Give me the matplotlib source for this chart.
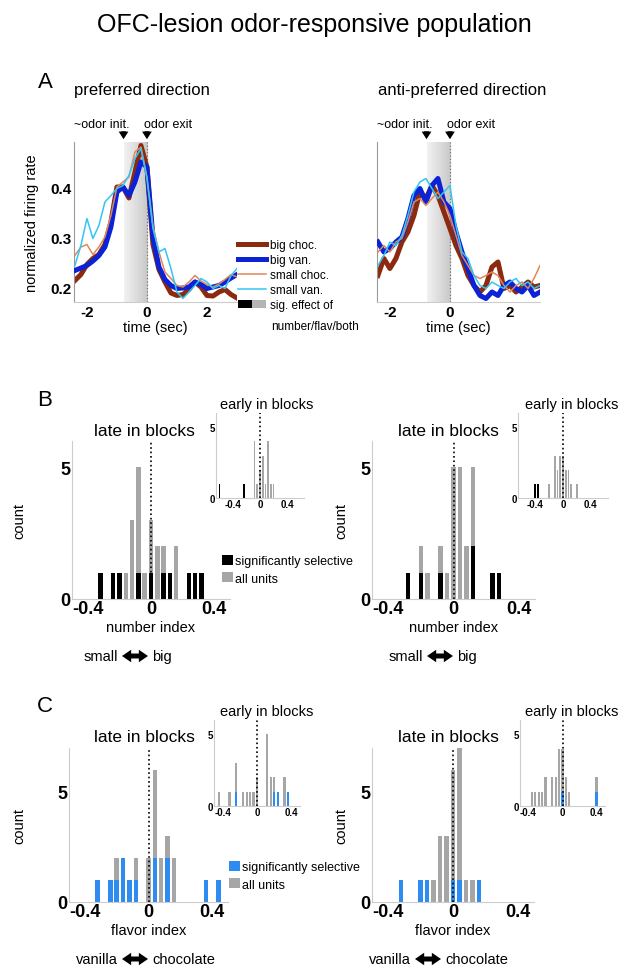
import numpy as np
import matplotlib
matplotlib.use("Agg")
import matplotlib.pyplot as plt
from matplotlib.colors import LinearSegmentedColormap
from matplotlib.patches import Patch, FancyArrowPatch
from matplotlib.legend_handler import HandlerTuple

plt.rcParams['font.family'] = ['Liberation Sans', 'DejaVu Sans']

# ---------------- data ----------------
t = [-2.4, -2.2, -2.0, -1.8, -1.6, -1.4, -1.2, -1.0, -0.8, -0.6, -0.4, -0.2, 0.0, 0.2,
     0.4, 0.6, 0.8, 1.0, 1.2, 1.4, 1.6, 1.8, 2.0, 2.2, 2.4, 2.6, 2.8, 3.0]

pref_big_choc = [0.213, 0.225, 0.245, 0.257, 0.265, 0.285, 0.330, 0.400, 0.400, 0.378, 0.430, 0.483, 0.440, 0.285,
                 0.235, 0.210, 0.188, 0.183, 0.185, 0.195, 0.210, 0.200, 0.183, 0.182, 0.190, 0.195, 0.185, 0.178]
pref_big_van = [0.233, 0.238, 0.243, 0.252, 0.263, 0.280, 0.320, 0.390, 0.400, 0.383, 0.410, 0.450, 0.440, 0.300,
                0.240, 0.215, 0.203, 0.197, 0.198, 0.200, 0.210, 0.205, 0.197, 0.200, 0.203, 0.210, 0.218, 0.225]
pref_small_choc = [0.263, 0.280, 0.285, 0.265, 0.280, 0.300, 0.343, 0.400, 0.410, 0.420, 0.470, 0.480, 0.420, 0.323,
                   0.270, 0.230, 0.217, 0.203, 0.200, 0.210, 0.223, 0.212, 0.205, 0.200, 0.206, 0.215, 0.225, 0.220]
pref_small_van = [0.243, 0.283, 0.337, 0.297, 0.323, 0.370, 0.383, 0.397, 0.403, 0.423, 0.457, 0.477, 0.417, 0.317,
                  0.270, 0.277, 0.237, 0.190, 0.177, 0.190, 0.203, 0.217, 0.210, 0.197, 0.203, 0.197, 0.223, 0.237]

anti_big_choc = [0.223, 0.257, 0.237, 0.257, 0.290, 0.310, 0.343, 0.390, 0.377, 0.403, 0.383, 0.350, 0.317, 0.283,
                 0.257, 0.223, 0.203, 0.190, 0.203, 0.240, 0.250, 0.197, 0.203, 0.190, 0.200, 0.210, 0.200, 0.203]
anti_big_van = [0.290, 0.270, 0.277, 0.290, 0.300, 0.337, 0.383, 0.397, 0.370, 0.403, 0.417, 0.370, 0.357, 0.310,
                0.270, 0.237, 0.203, 0.183, 0.177, 0.190, 0.183, 0.203, 0.210, 0.197, 0.190, 0.203, 0.183, 0.190]
anti_small_choc = [0.270, 0.283, 0.270, 0.290, 0.297, 0.330, 0.370, 0.377, 0.363, 0.377, 0.390, 0.370, 0.343, 0.303,
                   0.263, 0.243, 0.223, 0.217, 0.223, 0.230, 0.223, 0.203, 0.190, 0.203, 0.210, 0.197, 0.217, 0.243]
anti_small_van = [0.243, 0.263, 0.290, 0.283, 0.303, 0.343, 0.390, 0.410, 0.417, 0.397, 0.377, 0.390, 0.403, 0.323,
                  0.270, 0.257, 0.223, 0.203, 0.197, 0.210, 0.203, 0.197, 0.210, 0.217, 0.203, 0.210, 0.197, 0.203]

odor_init, odor_exit = -0.78, 0.0

# number index (B)
B_late_pref_x = [-0.32, -0.24, -0.20, -0.16, -0.12, -0.08, -0.04, 0.00, 0.04, 0.08, 0.12, 0.16, 0.24, 0.28, 0.32]
B_late_pref_all = [1, 1, 1, 1, 3, 5, 1, 3, 2, 2, 1, 2, 1, 1, 1]
B_late_pref_sig = [1, 1, 1, 0, 0, 1, 0, 1, 0, 1, 1, 0, 1, 1, 1]
B_early_pref_x = [-0.60, -0.24, -0.08, -0.04, 0.00, 0.04, 0.08, 0.12, 0.16, 0.20]
B_early_pref_all = [1, 1, 4, 1, 2, 3, 1, 4, 1, 1]
B_early_pref_sig = [1, 1, 0, 0, 0, 0, 0, 0, 0, 0]
B_late_anti_x = [-0.28, -0.20, -0.16, -0.08, -0.04, 0.00, 0.04, 0.08, 0.12, 0.24, 0.28]
B_late_anti_all = [1, 2, 1, 2, 1, 5, 5, 2, 5, 1, 1]
B_late_anti_sig = [1, 1, 0, 1, 0, 0, 0, 0, 2, 1, 1]
B_early_anti_x = [-0.40, -0.36, -0.20, -0.12, -0.08, -0.04, 0.00, 0.04, 0.08, 0.12, 0.20]
B_early_anti_all = [1, 1, 1, 3, 2, 3, 3, 2, 2, 1, 1]
B_early_anti_sig = [1, 1, 0, 0, 0, 0, 0, 0, 0, 0, 0]

# flavor index (C)
C_late_pref_x = [-0.32, -0.24, -0.20, -0.16, -0.12, -0.08, 0.00, 0.04, 0.08, 0.12, 0.16, 0.36, 0.44]
C_late_pref_all = [1, 1, 2, 2, 1, 2, 2, 6, 2, 3, 2, 1, 1]
C_late_pref_sig = [1, 1, 1, 2, 1, 1, 0, 2, 0, 2, 0, 1, 1]
C_early_pref_x = [-0.44, -0.32, -0.24, -0.16, -0.12, -0.08, -0.04, 0.00, 0.12, 0.16, 0.20, 0.24, 0.32, 0.36]
C_early_pref_all = [1, 1, 3, 1, 1, 1, 1, 2, 5, 2, 2, 1, 2, 1]
C_early_pref_sig = [0, 0, 1, 0, 0, 0, 0, 0, 0, 0, 1, 1, 0, 1]
C_late_anti_x = [-0.32, -0.20, -0.16, -0.12, -0.08, -0.04, 0.00, 0.04, 0.08, 0.12, 0.16]
C_late_anti_all = [1, 1, 1, 1, 3, 3, 6, 7, 1, 1, 1]
C_late_anti_sig = [1, 1, 1, 0, 0, 0, 1, 1, 0, 0, 1]
C_early_anti_x = [-0.36, -0.32, -0.28, -0.24, -0.20, -0.12, -0.08, -0.04, 0.00, 0.04, 0.08, 0.40]
C_early_anti_all = [1, 1, 1, 1, 2, 2, 2, 4, 4, 2, 1, 2]
C_early_anti_sig = [0, 0, 0, 0, 0, 0, 0, 0, 1, 0, 0, 1]

# ---------------- style ----------------
BROWN = '#8B2A0E'
NAVY = '#0B22D6'
ORANGE = '#E0875A'
CYAN = '#33C6F2'
GRAY = '#a6a6a6'
SIGBLUE = '#2E8BF0'
SPINE = '#cccccc'

W, H = 629, 978
fig = plt.figure(figsize=(W / 100, H / 100), dpi=100)


def P(x0, y0, x1, y1):
    return fig.add_axes([x0 / W, 1 - y1 / H, (x1 - x0) / W, (y1 - y0) / H])


def ftext(x, y, s, **kw):
    kw.setdefault('ha', 'center')
    kw.setdefault('va', 'center')
    fig.text(x / W, 1 - y / H, s, **kw)


def dbl_arrow(xa, xb, y):
    xm = 0.5 * (xa + xb)
    for xe in (xa, xb):
        fig.add_artist(FancyArrowPatch((xm / W, 1 - y / H), (xe / W, 1 - y / H), transform=fig.transFigure,
                                       arrowstyle='simple,head_length=0.55,head_width=0.75,tail_width=0.3',
                                       mutation_scale=12, lw=0, color='k', shrinkA=0, shrinkB=0))


ftext(314, 25, 'OFC-lesion odor-responsive population', fontsize=18)

# ---------------- Panel A ----------------
shade_cmap = LinearSegmentedColormap.from_list('sh', ['#f2f2f2', '#c8c8c8'])


def trace_panel(ax, bc, bv, sc, sv, show_y):
    ax.imshow(np.linspace(0, 1, 64).reshape(1, -1), extent=[odor_init, odor_exit, 0.17, 0.49],
              cmap=shade_cmap, aspect='auto', zorder=0)
    ax.axvline(0, color='#777777', ls=':', lw=0.9, zorder=1)
    l1, = ax.plot(t, bc, color=BROWN, lw=3.6, label='big choc.', zorder=2)
    l2, = ax.plot(t, bv, color=NAVY, lw=3.6, label='big van.', zorder=3)
    l3, = ax.plot(t, sc, color=ORANGE, lw=1.1, label='small choc.', zorder=4)
    l4, = ax.plot(t, sv, color=CYAN, lw=1.1, label='small van.', zorder=5)
    ax.set_xlim(-2.43, 3.0)
    ax.set_ylim(0.17, 0.49)
    ax.set_xticks([-2, 0, 2])
    ax.set_xticklabels(['-2', '0', '2'], fontweight='bold', fontsize=11)
    if show_y:
        ax.set_yticks([0.2, 0.3, 0.4])
        ax.set_yticklabels(['0.2', '0.3', '0.4'], fontweight='bold', fontsize=11)
    else:
        ax.set_yticks([])
    ax.tick_params(length=0, pad=2)
    for s in ['top', 'right']:
        ax.spines[s].set_visible(False)
    ax.spines['left'].set_color('#999999')
    ax.spines['bottom'].set_color(SPINE)
    ax.set_xlabel('time (sec)', fontsize=10.5, labelpad=1)
    for tt in (odor_init, odor_exit):
        ax.annotate('', xy=(tt, 1.0), xytext=(tt, 1.085), xycoords=('data', 'axes fraction'),
                    arrowprops=dict(arrowstyle='simple,head_length=0.55,head_width=0.7,tail_width=0.35',
                                    color='k', lw=0), annotation_clip=False)
    ax.text(-1.5, 1.11, '~odor init.', transform=ax.get_xaxis_transform(), ha='center', va='center', fontsize=9)
    ax.text(0.72, 1.11, 'odor exit', transform=ax.get_xaxis_transform(), ha='center', va='center', fontsize=9)
    return [l1, l2, l3, l4]


axA1 = P(74, 143, 237, 303)
lines = trace_panel(axA1, pref_big_choc, pref_big_van, pref_small_choc, pref_small_van, True)
axA1.set_ylabel('normalized firing rate', fontsize=10.5, labelpad=8)
axA2 = P(377, 143, 540, 303)
trace_panel(axA2, anti_big_choc, anti_big_van, anti_small_choc, anti_small_van, False)

ftext(45, 83, 'A', fontsize=16)
ftext(142, 90, 'preferred direction', fontsize=12)
ftext(462, 90, 'anti-preferred direction', fontsize=12)

sig_handle = (Patch(facecolor='black', edgecolor='none'), Patch(facecolor='#b5b5b5', edgecolor='none'))
fig.legend(lines + [sig_handle], ['big choc.', 'big van.', 'small choc.', 'small van.', 'sig. effect of'],
           handler_map={tuple: HandlerTuple(ndivide=None, pad=0)},
           loc='upper left', bbox_to_anchor=(238 / W, 1 - 240 / H), frameon=False, fontsize=8.5,
           handlelength=2.4, handletextpad=0.3, labelspacing=0.25, borderpad=0, borderaxespad=0)
ftext(271, 327, 'number/flav/both', fontsize=8.5, ha='left')


# ---------------- histograms ----------------
def hist_panel(ax, x, all_c, sig_c, sigcol, width, ymax, xlim, fs_tick, yt=(0, 5)):
    ax.bar(x, all_c, width=width, color=GRAY, zorder=1)
    ax.bar(x, sig_c, width=width, color=sigcol, zorder=2)
    ax.axvline(0, color='k', ls=':', lw=1.2, zorder=3)
    ax.set_xlim(*xlim)
    ax.set_ylim(0, ymax)
    ax.set_xticks([-0.4, 0, 0.4])
    ax.set_xticklabels(['-0.4', '0', '0.4'], fontweight='bold', fontsize=fs_tick)
    ax.set_yticks(list(yt))
    ax.set_yticklabels([str(v) for v in yt], fontweight='bold', fontsize=fs_tick)
    ax.tick_params(length=0, pad=1)
    for s in ['top', 'right']:
        ax.spines[s].set_visible(False)
    for s in ['left', 'bottom']:
        ax.spines[s].set_color(SPINE)
        ax.spines[s].set_linewidth(0.8)
    ax.patch.set_alpha(0)


def section(ytop_main, ybot_main, y_in_top, y_in_bot, xl_main, xl_in, datasets, sigcol, ymax_main,
            xlim_in, xlabel, arrow_l, arrow_r, arrow_x, leg_y, letter, letter_y, title_y, early_y):
    (lx, la, ls), (lex, lea, les), (rx, ra, rs), (rex, rea, res) = datasets
    for (x0, x1), (ix0, ix1), (mx, ma, msig), (ex, ea, esig), ttl_x, early_x, ax_c, ylab_x in [
        (xl_main[0], xl_in[0], (lx, la, ls), (lex, lea, les), 144, 267, arrow_x[0], 26),
        (xl_main[1], xl_in[1], (rx, ra, rs), (rex, rea, res), 448, 572, arrow_x[1], 348),
    ]:
        ax = P(x0, ytop_main, x1, ybot_main)
        hist_panel(ax, mx, ma, msig, sigcol, 0.028, ymax_main, (-0.5, 0.5), 13)
        ax.set_ylabel('count', fontsize=10.5, labelpad=2)
        ax.yaxis.set_label_coords((ylab_x - x0) / (x1 - x0), 0.5)
        ax.set_xlabel(xlabel, fontsize=10.5, labelpad=2)
        ftext(ttl_x, title_y, 'late in blocks', fontsize=12.5)
        axi = P(ix0, y_in_top, ix1, y_in_bot)
        hist_panel(axi, ex, ea, esig, sigcol, 0.026, 6, xlim_in, 7)
        ftext(early_x, early_y, 'early in blocks', fontsize=10.5)
        yb = ybot_main + 57
        ftext(ax_c - 17, yb, arrow_l, fontsize=10.5, ha='right')
        ftext(ax_c + 17, yb, arrow_r, fontsize=10.5, ha='left')
        dbl_arrow(ax_c - 13, ax_c + 13, yb)
    fig.legend([Patch(facecolor=sigcol), Patch(facecolor=GRAY)], ['significantly selective', 'all units'],
               loc='upper left', bbox_to_anchor=(leg_y[0] / W, 1 - leg_y[1] / H), frameon=False, fontsize=9,
               handlelength=0.85, handleheight=0.85, handletextpad=0.2, labelspacing=0.4,
               borderpad=0, borderaxespad=0)
    ftext(45, letter_y, letter, fontsize=16)


section(442, 600, 414, 499, [(72, 230), (372, 535)], [(216, 304), (518, 608)],
        [(B_late_pref_x, B_late_pref_all, B_late_pref_sig), (B_early_pref_x, B_early_pref_all, B_early_pref_sig),
         (B_late_anti_x, B_late_anti_all, B_late_anti_sig), (B_early_anti_x, B_early_anti_all, B_early_anti_sig)],
        'black', 6, (-0.65, 0.65), 'number index', 'small', 'big', (135, 440), (222, 556), 'B', 400, 432, 405)

section(749, 903, 721, 807, [(69, 228), (372, 534)], [(214, 300), (520, 605)],
        [(C_late_pref_x, C_late_pref_all, C_late_pref_sig), (C_early_pref_x, C_early_pref_all, C_early_pref_sig),
         (C_late_anti_x, C_late_anti_all, C_late_anti_sig), (C_early_anti_x, C_early_anti_all, C_early_anti_sig)],
        SIGBLUE, 7, (-0.5, 0.5), 'flavor index', 'vanilla', 'chocolate', (135, 428), (229, 862), 'C', 707, 738, 712)

fig.savefig('out.png', dpi=100)
